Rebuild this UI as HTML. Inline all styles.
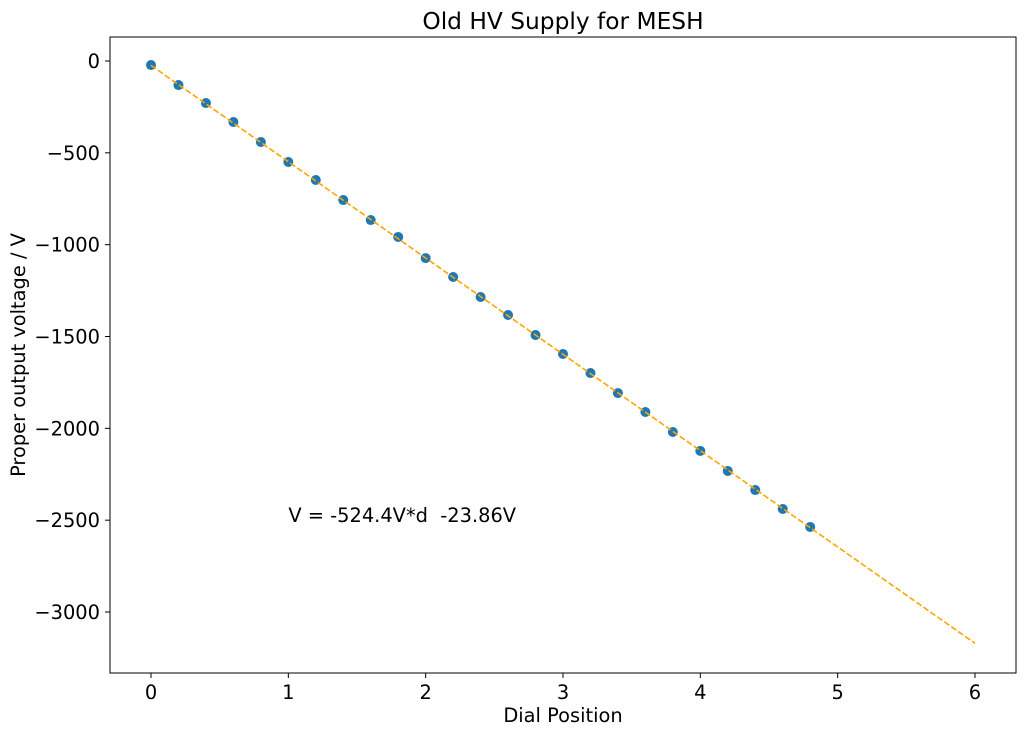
<!DOCTYPE html>
<html><head><meta charset="utf-8"><style>
body{margin:0;background:#fff;}
svg text{font-family:"DejaVu Sans","Liberation Sans",sans-serif;fill:#000;white-space:pre;}
</style></head><body>
<svg id="chart" width="1026" height="736" xmlns="http://www.w3.org/2000/svg">
<rect width="1026" height="736" fill="#fff"/>
<g id="plot"></g>
</svg>
<script>
const dial = [0,0.2,0.4,0.6,0.8,1.0,1.2,1.4,1.6,1.8,2.0,2.2,2.4,2.6,2.8,3.0,3.2,3.4,3.6,3.8,4.0,4.2,4.4,4.6,4.8];
const voltage = [-22,-131,-229,-332,-441,-550,-648,-757,-866,-958,-1073,-1176,-1285,-1383,-1492,-1595,-1699,-1808,-1911,-2020,-2123,-2232,-2336,-2439,-2537];
const slope = -524.4;
const intercept = -23.86;
const fitRange = [0,6];
const xTicks = [0,1,2,3,4,5,6];
const yTicks = [0,-500,-1000,-1500,-2000,-2500,-3000];

const L=110,R=1016,T=37,B=673;
const FS=19.4;
const xs = v => 151 + v*137.33;
const ys = v => 61 - v*0.18367;
const ns="http://www.w3.org/2000/svg";
const g=document.getElementById('plot');
function mk(tag,attrs,parent){const e=document.createElementNS(ns,tag);for(const k in attrs)e.setAttribute(k,attrs[k]);(parent||g).appendChild(e);return e;}
function fmt(v){return v<0?'\u2212'+Math.abs(v):String(v);}

dial.forEach((d,i)=>{
  const c=mk('circle',{cx:xs(d),cy:ys(voltage[i]),r:5,fill:'#1f77b4'});
  
  
});
const fl=mk('line',{x1:xs(fitRange[0]),y1:ys(slope*fitRange[0]+intercept),x2:xs(fitRange[1]),y2:ys(slope*fitRange[1]+intercept),stroke:'orange','stroke-width':1.6,'stroke-dasharray':'6,2.5'});



const fr=mk('rect',{x:L,y:T,width:R-L,height:B-T,fill:'none',stroke:'#000','stroke-width':1});



xTicks.forEach(t=>{
  const x=xs(t);
  mk('line',{x1:x,y1:B,x2:x,y2:B+5,stroke:'#000'});
  const tx=mk('text',{x:x,y:B+26,'font-size':FS,'text-anchor':'middle'});
  tx.textContent=fmt(t);
  
  
});
yTicks.forEach(t=>{
  const y=ys(t);
  mk('line',{x1:L-5,y1:y,x2:L,y2:y,stroke:'#000'});
  const tx=mk('text',{x:L-10,y:y+7,'font-size':FS,'text-anchor':'end'});
  tx.textContent=fmt(t);
  
  
});
const title=mk('text',{x:(L+R)/2,y:29,'font-size':23.3,'text-anchor':'middle'});
title.textContent='Old HV Supply for MESH';


const xl=mk('text',{x:(L+R)/2,y:722,'font-size':FS,'text-anchor':'middle'});
xl.textContent='Dial Position';


const yl=mk('text',{x:0,y:0,'font-size':FS,'text-anchor':'middle',transform:'translate(25,'+((T+B)/2)+') rotate(-90)'});
yl.textContent='Proper output voltage / V';


const an=mk('text',{x:xs(1),y:ys(-2500)+2,'font-size':FS});
an.textContent='V = -524.4V*d  -23.86V';


</script>
</body></html>
